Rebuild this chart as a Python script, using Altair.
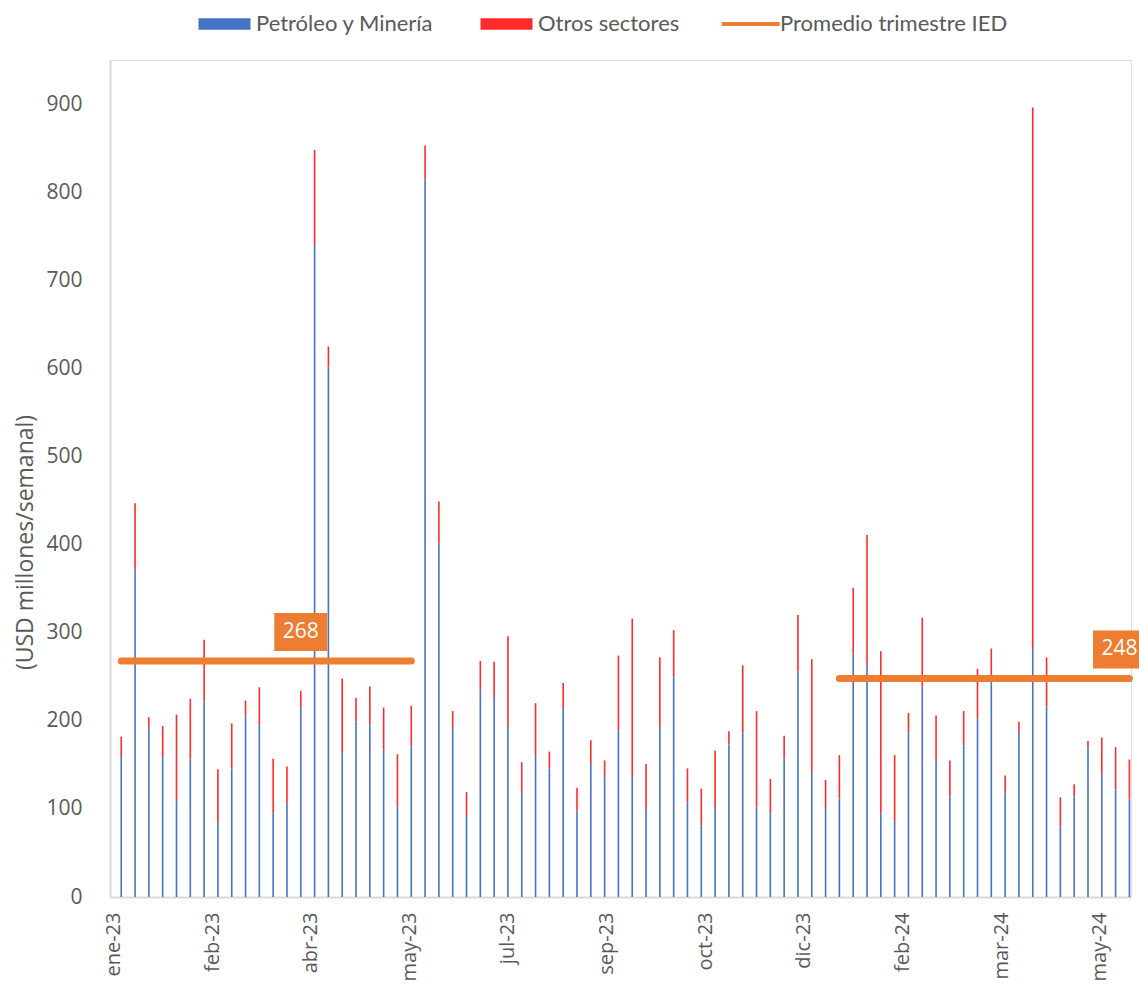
import altair as alt
import pandas as pd

# ---------------- data ----------------
series_names = ["Petróleo y Minería", "Otros sectores"]
series_colors = ["#4472C4", "#FF2B2B"]

petroleo = [159, 372, 192, 159, 110, 157, 222, 85, 146, 206,
            195, 96, 106, 215, 740, 602, 163, 199, 196, 167,
            103, 171, 814, 401, 192, 92, 236, 227, 194, 117,
            161, 146, 213, 98, 151, 136, 189, 136, 99, 193,
            250, 107, 81, 101, 173, 187, 103, 95, 157, 256,
            142, 101, 112, 276, 263, 95, 86, 187, 239, 154,
            114, 172, 203, 244, 119, 186, 281, 216, 80, 114,
            170, 140, 122, 111]
otros = [23, 75, 12, 35, 97, 68, 70, 60, 51, 17,
         43, 61, 42, 19, 108, 23, 85, 27, 43, 48,
         59, 46, 39, 48, 19, 27, 32, 40, 102, 36,
         59, 19, 30, 26, 27, 19, 85, 180, 52, 79,
         53, 39, 42, 65, 15, 76, 108, 39, 26, 64,
         128, 32, 49, 75, 148, 184, 75, 22, 78, 52,
         41, 39, 56, 38, 19, 13, 615, 56, 33, 14,
         7, 41, 48, 45]
first_week = "2023-01-05"
semanas = pd.date_range(first_week, periods=len(petroleo), freq="7D")

avg_name = "Promedio trimestre IED"
avg_color = "#ED7D31"
avg_values = [268, 248]
avg_start = ["2023-01-05", "2024-01-04"]
avg_end = ["2023-06-01", "2024-05-30"]
avg_label_at = ["2023-04-06", "2024-05-25"]

tick_labels = ["ene-23", "feb-23", "abr-23", "may-23", "jul-23", "sep-23",
               "oct-23", "dic-23", "feb-24", "mar-24", "may-24"]
axis_start = pd.Timestamp("2023-01-01")
tick_step_days = 50
tick_dates = pd.date_range(axis_start, periods=len(tick_labels), freq=f"{tick_step_days}D")

# ---------------- tables ----------------
def ms(ts):
    return int(pd.Timestamp(ts).value // 10**6)

rows = []
for d, p, o in zip(semanas, petroleo, otros):
    rows.append({"fecha": d.strftime("%Y-%m-%d"), "serie": series_names[0], "valor": p, "orden": 0})
    rows.append({"fecha": d.strftime("%Y-%m-%d"), "serie": series_names[1], "valor": o, "orden": 1})
bars_df = pd.DataFrame(rows)

avg_df = pd.DataFrame({
    "inicio": avg_start, "fin": avg_end, "valor": avg_values,
    "etiqueta_en": avg_label_at, "texto": [str(v) for v in avg_values],
    "serie": [avg_name] * len(avg_values),
})

DAY = 86400000
x_domain = [ms(axis_start) - 1.7 * DAY, ms(axis_start) + 515.8 * DAY]
tick_ms = [ms(t) for t in tick_dates]
label_expr = "[" + ",".join(f"'{l}'" for l in tick_labels) + "]" + \
    f"[round((toNumber(datum.value) - {ms(axis_start)}) / {tick_step_days * DAY})]"

GRAY = "#595959"
FONT = "Open Sans"

x_enc = alt.X("fecha:T",
              scale=alt.Scale(type="utc", domain=x_domain, nice=False, padding=0),
              axis=alt.Axis(values=tick_ms, labelExpr=label_expr, labelAngle=-90,
                            labelAlign="right", labelBaseline="middle", labelPadding=15,
                            ticks=False, grid=False, domainColor="#D9D9D9", domainWidth=2,
                            labelFont=FONT, labelFontSize=20, labelColor=GRAY,
                            labelOverlap=False, labelFlush=False, title=None))
y_enc = alt.Y("valor:Q", stack="zero",
              scale=alt.Scale(domain=[0, 950], nice=False),
              axis=alt.Axis(values=list(range(0, 1000, 100)), ticks=False, grid=False,
                            domainColor="#D9D9D9", domainWidth=2, labelPadding=28,
                            labelFont=FONT, labelFontSize=21, labelColor=GRAY,
                            title="(USD millones/semanal)", titleFont=FONT,
                            titleFontSize=23, titleFontWeight="normal", titleColor=GRAY,
                            titleAngle=-90, titleBaseline="middle", titleAlign="center",
                            titleX=-85, titleY=482))

bars = alt.Chart(bars_df).mark_bar(size=1.6).encode(
    x=x_enc,
    y=y_enc,
    color=alt.Color("serie:N",
                    scale=alt.Scale(domain=series_names, range=series_colors),
                    legend=alt.Legend(orient="none", legendX=84, legendY=-47,
                                      direction="horizontal", columns=2, title=None,
                                      symbolType="M-1,-0.9L7,-0.9L7,0.9L-1,0.9Z",
                                      symbolSize=169, symbolStrokeWidth=0,
                                      labelOffset=40, columnPadding=42, padding=0,
                                      labelLimit=400,
                                      labelFont="Lato", labelFontSize=22, labelColor=GRAY)),
    order=alt.Order("orden:Q", sort="ascending"),
)

rules = alt.Chart(avg_df).mark_rule(strokeWidth=7, strokeCap="round").encode(
    x=alt.X("inicio:T"),
    x2="fin:T",
    y=alt.Y("valor:Q"),
    stroke=alt.Stroke("serie:N",
                      scale=alt.Scale(domain=[avg_name], range=[avg_color]),
                      legend=alt.Legend(orient="none", legendX=608, legendY=-47,
                                        direction="horizontal", title=None,
                                        symbolType="M-1,0L7,0", symbolSize=210,
                                        symbolStrokeWidth=4, labelOffset=40, padding=0,
                                        labelLimit=400,
                                        labelFont="Lato", labelFontSize=22, labelColor=GRAY)),
)

boxes = alt.Chart(avg_df).mark_point(
    shape="M-1,-0.717L1,-0.717L1,0.717L-1,0.717Z", size=2809, filled=True,
    color=avg_color, opacity=1, strokeWidth=0, yOffset=-29,
).encode(x=alt.X("etiqueta_en:T"), y=alt.Y("valor:Q"))

texts = alt.Chart(avg_df).mark_text(
    font=FONT, fontSize=21, color="white", align="center", baseline="middle", yOffset=-29,
).encode(x=alt.X("etiqueta_en:T"), y=alt.Y("valor:Q"), text="texto:N")

chart = alt.layer(bars, rules, boxes, texts).resolve_scale(color="independent").properties(
    width=1021, height=837,
    padding={"left": 102, "top": 52, "right": 8, "bottom": 86},
    autosize=alt.AutoSizeParams(type="none"),
).configure_view(stroke=None).configure(background="white")

chart.save("out.html", embed_options={"renderer": "svg", "actions": False})
